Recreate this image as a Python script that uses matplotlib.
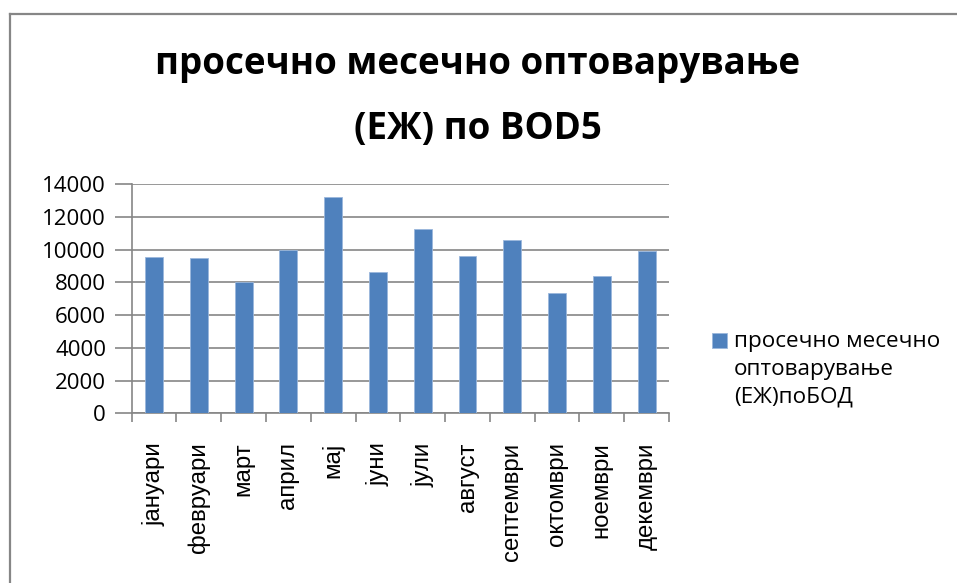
import matplotlib.pyplot as plt
from matplotlib.patches import Rectangle
from matplotlib.lines import Line2D

plt.rcParams['font.family'] = ['Open Sans', 'DejaVu Sans']

# podatoci
meseci = ['јануари', 'февруари', 'март', 'април', 'мај', 'јуни',
          'јули', 'август', 'септември', 'октомври', 'ноември', 'декември']
vrednosti = [9520, 9480, 7990, 9990, 13190, 8640,
             11250, 9600, 10610, 7340, 8380, 9880]
naslov = 'просечно месечно оптоварување\n(ЕЖ) по BOD5'
legenda = 'просечно месечно\nоптоварување\n(ЕЖ)поБОД'

W, H = 957, 583
fig = plt.figure(figsize=(W / 100, H / 100), dpi=100)
ax = fig.add_axes([131.7 / W, 1 - 413.3 / H, (669 - 131.7) / W, (413.3 - 184) / H])

x = range(len(meseci))
ax.bar(x, vrednosti, width=0.4, color='#4f81bd', edgecolor='#9bb7dc', linewidth=0.6, zorder=3)

ax.set_xlim(-0.5, len(meseci) - 0.5)
ax.set_ylim(0, 14000)
ax.set_yticks(range(0, 14001, 2000))
ax.yaxis.grid(True, color='#868686', linewidth=1.2, zorder=0)

# x oska: podelbi megju kategoriite
ax.set_xticks([i - 0.5 for i in range(len(meseci) + 1)], minor=False)
ax.set_xticklabels([])
ax.set_xticks(list(x), minor=True)
ax.set_xticklabels(meseci, minor=True, rotation=90, fontsize=17.3, family='Liberation Sans')
ax.tick_params(axis='x', which='major', length=6.5, color='#868686', width=1.2)
ax.tick_params(axis='x', which='minor', length=0, pad=21)
ax.tick_params(axis='y', length=12.5, color='#868686', width=1.2, labelsize=16, pad=6)

for s in ['top', 'right']:
    ax.spines[s].set_visible(False)
for s in ['left', 'bottom']:
    ax.spines[s].set_color('#868686')
    ax.spines[s].set_linewidth(1.2)

fig.text(478 / W, 1 - 64 / H, naslov.split('\n')[0], ha='center', va='center',
         fontsize=26.5, fontweight='bold')
fig.text(478 / W, 1 - 129 / H, naslov.split('\n')[1], ha='center', va='center',
         fontsize=26.5, fontweight='bold')

# legenda (kvadratche + tekst)
fig.patches.append(Rectangle((712 / W, 1 - 348 / H), 15 / W, 15 / H, transform=fig.transFigure,
                             facecolor='#4f81bd', edgecolor='#9bb7dc', linewidth=0.6))
fig.text(734 / W, 1 - 331 / H, legenda, ha='left', va='top', fontsize=16.2, linespacing=1.42)

# ramka (samo levo i gore)
c = '#868686'
fig.add_artist(Line2D([9.5 / W, 9.5 / W], [0, 1 - 13.5 / H], color=c, lw=1.6))
fig.add_artist(Line2D([9.5 / W, 1], [1 - 13.5 / H, 1 - 13.5 / H], color=c, lw=1.6))

fig.savefig('out.png', dpi=100, facecolor='white')
